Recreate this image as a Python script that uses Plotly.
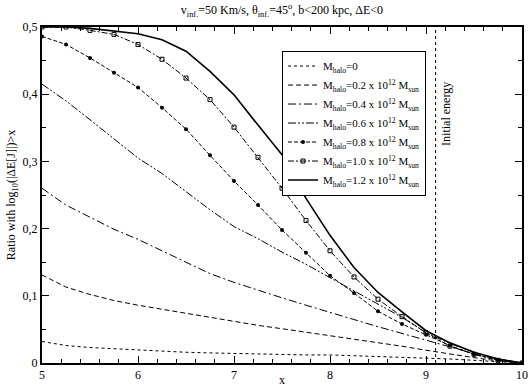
import plotly.graph_objects as go

# Datos
x = [5.0, 5.25, 5.5, 5.75, 6.0, 6.25, 6.5, 6.75, 7.0, 7.25, 7.5,
     7.75, 8.0, 8.25, 8.5, 8.75, 9.0, 9.25, 9.5, 9.75, 10.0]

m_00 = [0.032, 0.026, 0.023, 0.021, 0.019, 0.018, 0.016, 0.015, 0.014, 0.013, 0.013,
        0.012, 0.012, 0.011, 0.010, 0.009, 0.008, 0.006, 0.004, 0.002, 0.0]
m_02 = [0.131, 0.113, 0.102, 0.093, 0.086, 0.080, 0.073, 0.067, 0.061, 0.056, 0.051,
        0.046, 0.041, 0.036, 0.030, 0.025, 0.019, 0.013, 0.008, 0.003, 0.0]
m_04 = [0.260, 0.235, 0.217, 0.199, 0.184, 0.167, 0.150, 0.133, 0.120, 0.108, 0.097,
        0.086, 0.075, 0.065, 0.054, 0.044, 0.034, 0.024, 0.014, 0.006, 0.0]
m_06 = [0.415, 0.390, 0.362, 0.333, 0.305, 0.282, 0.255, 0.228, 0.203, 0.185, 0.165,
        0.147, 0.127, 0.107, 0.088, 0.068, 0.045, 0.029, 0.016, 0.006, 0.0]
m_08 = [0.486, 0.474, 0.454, 0.432, 0.410, 0.380, 0.348, 0.309, 0.271, 0.235, 0.198,
        0.164, 0.130, 0.104, 0.077, 0.058, 0.042, 0.026, 0.013, 0.004, 0.0]
m_10 = [0.500, 0.500, 0.495, 0.489, 0.474, 0.452, 0.424, 0.392, 0.351, 0.306, 0.260,
        0.212, 0.167, 0.128, 0.095, 0.069, 0.045, 0.025, 0.013, 0.004, 0.0]
m_12 = [0.500, 0.500, 0.498, 0.494, 0.490, 0.481, 0.464, 0.434, 0.399, 0.354, 0.310,
        0.245, 0.190, 0.142, 0.105, 0.076, 0.048, 0.030, 0.016, 0.006, 0.0]

labels = ["M<sub>halo</sub>=0",
          "M<sub>halo</sub>=0.2 x 10<sup>12</sup> M<sub>sun</sub>",
          "M<sub>halo</sub>=0.4 x 10<sup>12</sup> M<sub>sun</sub>",
          "M<sub>halo</sub>=0.6 x 10<sup>12</sup> M<sub>sun</sub>",
          "M<sub>halo</sub>=0.8 x 10<sup>12</sup> M<sub>sun</sub>",
          "M<sub>halo</sub>=1.0 x 10<sup>12</sup> M<sub>sun</sub>",
          "M<sub>halo</sub>=1.2 x 10<sup>12</sup> M<sub>sun</sub>"]

y_ticks = [0, 0.1, 0.2, 0.3, 0.4, 0.5]
y_ticktext = ["0", "0,1", "0,2", "0,3", "0,4", "0,5"]
x_initial = 9.1

fuente = "Liberation Serif"

fig = go.Figure()

series = [m_00, m_02, m_04, m_06, m_08, m_10, m_12]
estilos = [
    dict(dash="dot", width=1, mode="lines", marker=None),
    dict(dash="5px,3px", width=1, mode="lines", marker=None),
    dict(dash="8px,3px,2px,3px", width=1, mode="lines", marker=None),
    dict(dash="8px,2px,2px,2px,2px,2px", width=1, mode="lines", marker=None),
    dict(dash="4px,2px", width=1, mode="lines+markers",
         marker=dict(symbol="circle", size=4, color="black")),
    dict(dash="6px,2px,2px,2px", width=1, mode="lines+markers",
         marker=dict(symbol="square-open", size=4, color="black", line=dict(width=1))),
    dict(dash="solid", width=1.6, mode="lines", marker=None),
]

for s, est, lab in zip(series, estilos, labels):
    fig.add_trace(go.Scatter(
        x=x, y=s, mode=est["mode"], name=lab,
        line=dict(color="black", width=est["width"], dash=est["dash"]),
        marker=est["marker"],
    ))

# Línea de energía inicial
fig.add_shape(type="line", x0=x_initial, x1=x_initial, y0=0, y1=0.5,
              xref="x", yref="y",
              line=dict(color="black", width=1, dash="dot"))
fig.add_annotation(x=x_initial + 0.02, y=0.37, xref="x", yref="y",
                   text="Initial energy", textangle=-90, showarrow=False,
                   xanchor="left", font=dict(family=fuente, size=12, color="black"))

# Título del eje x
fig.add_annotation(x=0.5, y=-0.05, xref="paper", yref="paper", text="x",
                   showarrow=False, yanchor="middle",
                   font=dict(family=fuente, size=12, color="black"))

fig.update_layout(
    width=529, height=389,
    margin=dict(l=42, r=7, t=27, b=26),
    plot_bgcolor="white", paper_bgcolor="white",
    font=dict(family=fuente, size=12, color="black"),
    title=dict(text="v<sub>inf.</sub>=50 Km/s, θ<sub>inf.</sub>=45<sup>o</sup>, b<200 kpc, ΔE<0",
               x=0.533, xanchor="center", y=0.985, yanchor="top",
               font=dict(family=fuente, size=12)),
    showlegend=True,
    legend=dict(x=0.5, y=0.93, xanchor="left", yanchor="top",
                bordercolor="black", borderwidth=1, bgcolor="white",
                font=dict(family=fuente, size=11), tracegroupgap=0,
                itemwidth=30),
)

fig.update_xaxes(range=[5, 10], dtick=1, ticks="inside", ticklen=7, tickwidth=1,
                 tickcolor="black", showline=True, linewidth=2, linecolor="black",
                 mirror="allticks", showgrid=False, zeroline=False, automargin=False,
                 minor=dict(ticks="inside", dtick=0.2, ticklen=4, tickcolor="black"),
                 tickfont=dict(family=fuente, size=12))
fig.update_yaxes(range=[0, 0.5], tickvals=y_ticks, ticktext=y_ticktext,
                 ticks="inside", ticklen=7, tickwidth=1, tickcolor="black",
                 showline=True, linewidth=2, linecolor="black",
                 mirror="allticks", showgrid=False, zeroline=False, automargin=False,
                 minor=dict(ticks="inside", tickvals=[0.05, 0.15, 0.25, 0.35, 0.45],
                            ticklen=4, tickcolor="black"),
                 title=dict(text="Ratio with log<sub>10</sub>(|ΔE[J]|)>x", standoff=4,
                            font=dict(family=fuente, size=12)),
                 tickfont=dict(family=fuente, size=12))

fig.write_html("out.html", config={"displayModeBar": False},
               post_script="document.body.style.margin='0';")
